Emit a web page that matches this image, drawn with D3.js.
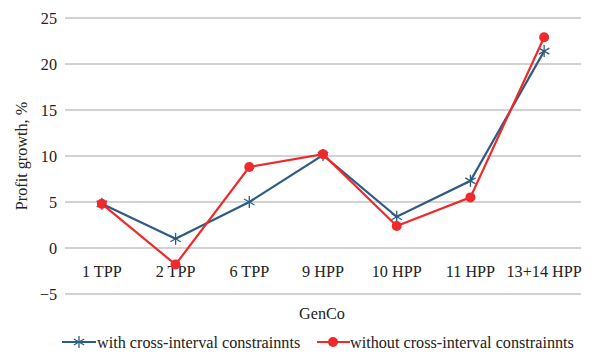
<!DOCTYPE html>
<html><head><meta charset="utf-8">
<script src="https://cdn.jsdelivr.net/npm/d3@7"></script>
<style>body{margin:0;background:#fff}svg{display:block}text{font-family:"Liberation Serif","Times New Roman",serif;fill:#222}</style>
</head><body><svg id="c" width="596" height="359"></svg>
<script>
const categories = ["1 TPP","2 TPP","6 TPP","9 HPP","10 HPP","11 HPP","13+14 HPP"];
const withCross = [4.8, 1.0, 5.0, 10.1, 3.4, 7.3, 21.4];
const withoutCross = [4.8, -1.8, 8.8, 10.2, 2.4, 5.5, 22.9];
const yTicks = [-5, 0, 5, 10, 15, 20, 25];
const seriesNames = ["with cross-interval constrainnts", "without cross-interval constrainnts"];

const svg = d3.select("#c");
const L = 65, R = 581, T = 18, B = 294;
const x = d3.scaleBand().domain(categories).range([L, R]);
const y = d3.scaleLinear().domain([-5, 25]).range([B, T]);
const blue = "#2f5b84", red = "#ee2a2a";
const fs = 16.2;

svg.append("g").selectAll("line").data(yTicks).join("line")
  .attr("x1", L).attr("x2", R).attr("y1", d => y(d)).attr("y2", d => y(d))
  .attr("stroke", "#a6a6a6").attr("stroke-width", 1.2);
svg.append("g").selectAll("text").data(yTicks).join("text")
  .attr("x", 57).attr("y", d => y(d)).attr("dy", "0.35em").attr("text-anchor", "end")
  .attr("font-size", fs).text(d => d < 0 ? "\u2212" + Math.abs(d) : d);
svg.append("g").selectAll("text").data(categories).join("text")
  .attr("x", d => x(d) + x.bandwidth() / 2).attr("y", y(-2.5)).attr("dy", "0.35em")
  .attr("text-anchor", "middle").attr("font-size", fs).text(d => d);
svg.append("text").attr("transform", `translate(21,${(T + B) / 2}) rotate(-90)`)
  .attr("text-anchor", "middle").attr("dy", "0.35em").attr("font-size", fs).text("Profit growth, %");
svg.append("text").attr("x", 322).attr("y", 313).attr("text-anchor", "middle").attr("dy", "0.35em")
  .attr("font-size", fs).text("GenCo");

const cx = (d, i) => x(categories[i]) + x.bandwidth() / 2;
const line = d3.line().x((d, i) => cx(d, i)).y(d => y(d));
function star(g, px, py, r, col) {
  const s = g.append("g").attr("stroke", col).attr("stroke-width", 1.3);
  [0, 60, 120].forEach(a => {
    const rad = a * Math.PI / 180;
    s.append("line").attr("x1", px - r * Math.sin(rad)).attr("y1", py - r * Math.cos(rad))
      .attr("x2", px + r * Math.sin(rad)).attr("y2", py + r * Math.cos(rad));
  });
}
svg.append("path").datum(withCross).attr("d", line).attr("fill", "none").attr("stroke", blue).attr("stroke-width", 2.2);
const gs = svg.append("g");
withCross.forEach((d, i) => star(gs, cx(d, i), y(d), 6, blue));
svg.append("path").datum(withoutCross).attr("d", line).attr("fill", "none").attr("stroke", red).attr("stroke-width", 2.2);
svg.append("g").selectAll("circle").data(withoutCross).join("circle")
  .attr("cx", (d, i) => cx(d, i)).attr("cy", d => y(d)).attr("r", 5).attr("fill", red);

// legend
const ly = 342;
svg.append("line").attr("x1", 62).attr("x2", 96).attr("y1", ly).attr("y2", ly).attr("stroke", blue).attr("stroke-width", 2.2);
star(svg, 79, ly, 6, blue);
svg.append("text").attr("x", 97).attr("y", ly).attr("dy", "0.35em").attr("font-size", fs).text(seriesNames[0]);
svg.append("line").attr("x1", 317).attr("x2", 350).attr("y1", ly).attr("y2", ly).attr("stroke", red).attr("stroke-width", 2.2);
svg.append("circle").attr("cx", 333).attr("cy", ly).attr("r", 5).attr("fill", red);
svg.append("text").attr("x", 350).attr("y", ly).attr("dy", "0.35em").attr("font-size", fs).text(seriesNames[1]);
</script></body></html>
